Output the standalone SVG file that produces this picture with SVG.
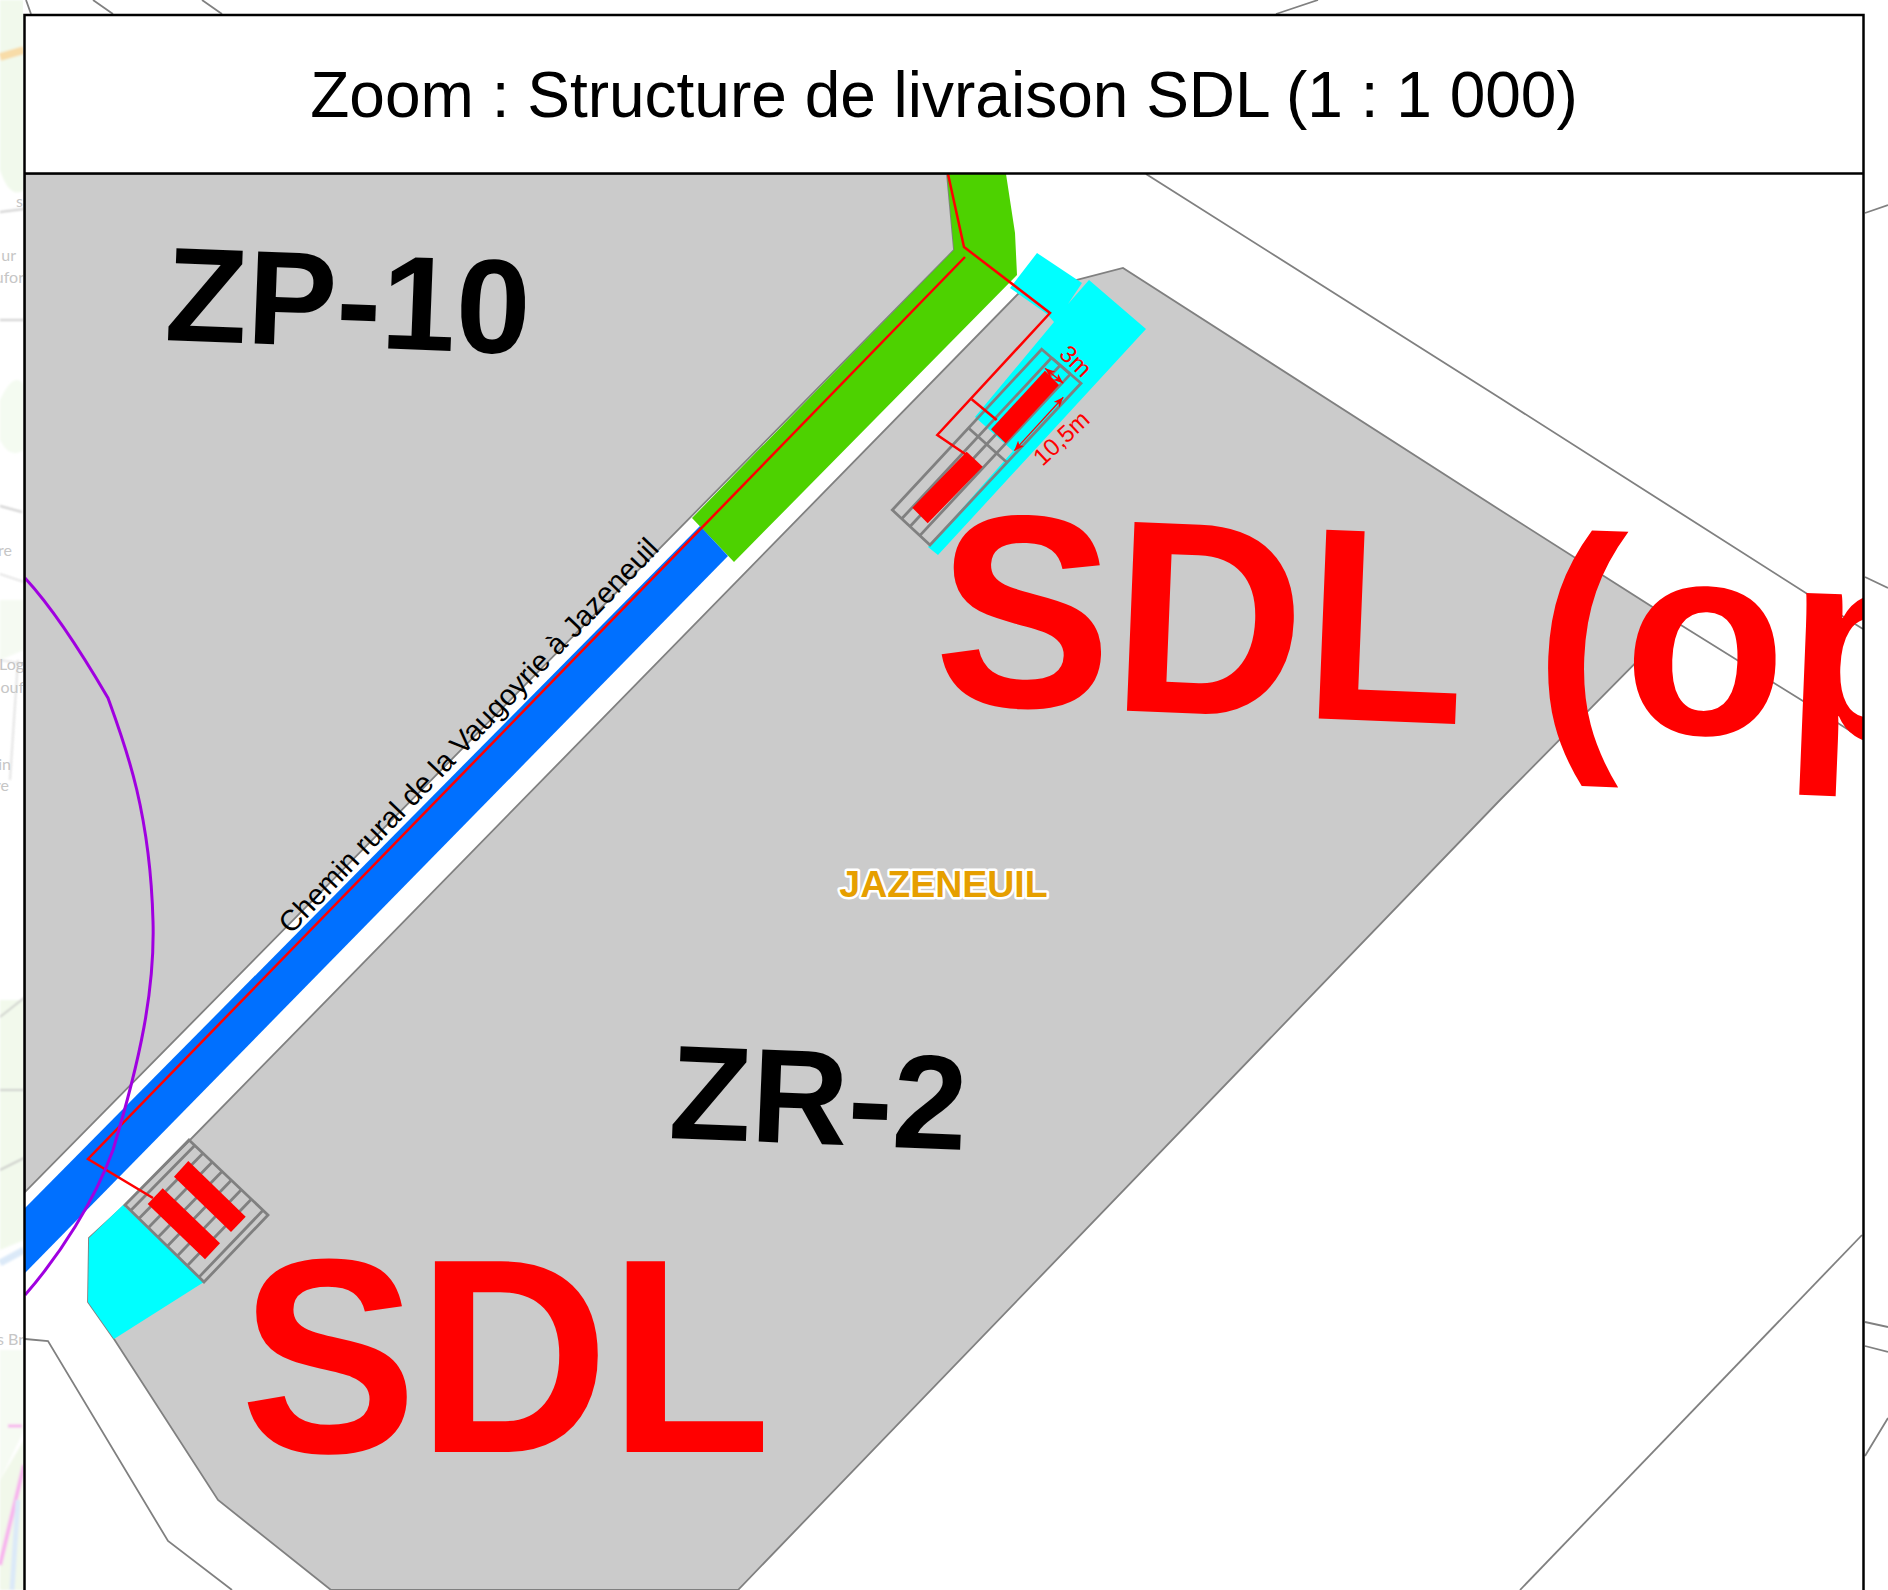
<svg xmlns="http://www.w3.org/2000/svg" width="1888" height="1590" viewBox="0 0 1888 1590">
<defs>
<style>
text{font-family:"Liberation Sans",Arial,sans-serif}
.b{font-weight:bold}
.lab{fill:#000;font-weight:bold;font-size:134px}
.sdl{fill:#f00;font-weight:bold;font-size:264px}
.parcel{fill:#cbcbcb;stroke:#808080;stroke-width:1.8}
.pl{fill:none;stroke:#808080;stroke-width:1.8}
.grid{fill:none;stroke:#808080;stroke-width:2.8}
.red{fill:#f00}
.rl{fill:none;stroke:#f00;stroke-width:2.5}
.dim{fill:none;stroke:#f00;stroke-width:1.3;marker-start:url(#ar);marker-end:url(#ar)}
.cy{fill:#0ff}
.mt{fill:#c6c6c6;font-size:16px;font-family:Lato,"Liberation Sans",sans-serif}
</style>
<marker id="ar" viewBox="0 0 10 8" refX="10" refY="4" markerWidth="10" markerHeight="8" markerUnits="userSpaceOnUse" orient="auto-start-reverse"><path d="M0 0L10 4L0 8L2.500 4Z" fill="#f00"/></marker>
<clipPath id="frame"><rect x="25" y="174" width="1838" height="1416"/></clipPath>
<clipPath id="strip"><rect x="0" y="0" width="23" height="1590"/></clipPath>
<filter id="soft" x="-20%" y="-20%" width="140%" height="140%"><feGaussianBlur stdDeviation="1"/></filter>
</defs>
<rect width="1888" height="1590" fill="#fff"/>
<g id="map-strip" clip-path="url(#strip)">
<g filter="url(#soft)">
<path d="M0 0H24V190Q10 200 0 170Z" fill="#f1f9ec"/>
<path d="M0 400Q14 370 24 385V450Q10 460 0 440Z" fill="#f4fbf1"/>
<path d="M0 600H24V650L0 660Z" fill="#f5faf2"/>
<path d="M0 1000H24V1240L0 1250Z" fill="#f2f9ec"/>
<path d="M0 1350H24V1430L0 1480Z" fill="#f6fbf3"/>
<path d="M0 1480L24 1440V1590H0Z" fill="#f1f8ea"/>
<path d="M0 57L24 50" stroke="#f8dca8" stroke-width="8" fill="none"/>
<path d="M0 212L24 209M0 320L24 320M0 506L22 512M0 1017L24 998M0 1090H24M0 1170L24 1158" stroke="#c0c0c0" stroke-width="1.5" fill="none"/>
<path d="M0 574L24 582M0 660L24 664M18 660L10 780" stroke="#d0d0d0" stroke-width="1.2" fill="none"/>
<path d="M24 1465L0 1565" stroke="#f8b4ee" stroke-width="4" fill="none"/>
<path d="M8 1426H22" stroke="#f8b4ee" stroke-width="3" fill="none"/>
<path d="M0 1263L24 1250" stroke="#dbe9f8" stroke-width="7" fill="none"/>
<path d="M18 1500L12 1590" stroke="#dbe9f8" stroke-width="5" fill="none"/>
</g>
<text class="mt" x="23" y="207" text-anchor="end">s</text>
<text class="mt" x="16" y="261" text-anchor="end">ur</text>
<text class="mt" x="24" y="283" text-anchor="end">ufor</text>
<text class="mt" x="12" y="556" text-anchor="end">re</text>
<text class="mt" x="24" y="670" text-anchor="end">Log</text>
<text class="mt" x="24" y="693" text-anchor="end">ouf</text>
<text class="mt" x="11" y="770" text-anchor="end">in</text>
<text class="mt" x="9" y="791" text-anchor="end">re</text>
<text class="mt" x="24" y="1345" text-anchor="end">s Br</text>
</g>
<g id="outside-lines">
<path class="pl" d="M26 0L31 14M93 0L113 14M202 0L222 14M1276 14L1318 0M1865 213L1888 205M1865 577L1888 588M1865 1322L1888 1327M1865 1346L1888 1352M1865 1456L1888 1418"/>
</g>
<g id="frame-bg"><rect x="24.500" y="15" width="1839" height="1585" fill="#fff"/></g>
<g id="map" clip-path="url(#frame)">
<g id="parcels">
<path class="pl" d="M1146 174L1500 398L1820 602L1863 629"/>
<path class="pl" d="M25 1339L48 1341L168 1541L232 1590"/>
<path class="pl" d="M1862 1235L1520 1590"/>
<path id="parcel-zp-10" class="parcel" d="M25 174H947L954 250L25 1192Z"/>
<path id="parcel-zr-2" class="parcel" d="M1017 295L1030 283L1076 280L1123 268L1500 510L1676 622L1500 800L738 1590H331L218 1500L114 1339L88 1302L89 1238L125 1205L189 1141Z"/>
<path class="pl" d="M1676 622L1803 701L1863 739"/>
</g>
<g id="access-road">
<path id="road-green" fill="#4dd200" d="M947 174H1006L1015 233L1017 275L734 562L692 518L954 250Z"/>
<path id="road-blue" fill="#0070ff" d="M25 1208L700 526L728 556L25 1273Z"/>
</g>
<g id="cyan-areas">
<path id="cyan-north" class="cy" d="M1010 288L1037 253L1082 283L1068 304L1089 280L1146 329L938 555L928 547L1013 451L975 417L1054 322L1047 314Z"/>
<path id="cyan-south" class="cy" d="M123 1205L89 1238L88 1302L114 1339L204 1282Z"/>
</g>
<g id="structure-south">
<path class="grid" d="M189 1140L268 1215L204 1282L125 1205Z"/>
<path class="grid" d="M130.700 1210.500L194.700 1145.400M139 1218.600L203 1153.300M148.300 1227.700L212.300 1162.100M158 1237.200L222 1171.400M167.300 1246.300L231.300 1180.200M177.300 1256L241.300 1189.700M187.300 1265.800L251.300 1199.200M199 1277.100L263 1210.300"/>
<path class="red" d="M188.300 1161L245.700 1216.700L231 1232L174 1176.700Z"/>
<path class="red" d="M162.700 1188.300L220 1243.300L205 1259.300L147.700 1204Z"/>
</g>
<g id="structure-north">
<path class="grid" d="M1041.700 349.300L1081 383.300L930 545L892.300 510Z"/>
<path class="grid" d="M901.700 518.800L1051.500 357.800M910 526.500L1060.200 365.300M919.800 535.600L1070.400 374.100M968.500 428L1007 462.500M1051.500 357.800L1070.400 374.100"/>
<path class="red" d="M1045 370.700L1059 385L1005.700 443.300L991 429.300Z"/>
<path class="red" d="M966.700 451.700L982.700 466.700L927.700 523.300L912.300 507.700Z"/>
</g>
<g id="connectors">
<path class="rl" d="M948 174L964 247L1050 313L937.300 435L966.700 455"/>
<path class="rl" d="M965 257L88 1159L153 1198"/>
<path class="rl" d="M971.700 399.300L996.700 420"/>
<path fill="none" stroke="#a000e0" stroke-width="3" d="M25 578C50 605 80 650 108 698C125 745 150 810 153 921C155 990 140 1060 113 1150C95 1200 60 1255 25 1295"/>
<path class="dim" d="M1045 368.300L1063.300 383.300"/>
<path class="dim" d="M1063.300 397.300L1014.300 450.700"/>
</g>
<g id="labels">
<text class="lab" x="164" y="340" transform="rotate(2.2 164 340)">ZP-10</text>
<text class="lab" x="668" y="1138" transform="rotate(2.3 668 1138)">ZR-2</text>
<text class="sdl" transform="translate(240 1452) scale(1.006 1.05)">SDL</text>
<text class="sdl" transform="translate(932 703) rotate(2.3) scale(1.007 1.04)">SDL (op</text>
<text x="943.500" y="897" class="b" font-size="37.500" fill="#e69f00" stroke="#fff" stroke-width="5" stroke-linejoin="round" paint-order="stroke" text-anchor="middle">JAZENEUIL</text>
<text x="291" y="935" font-size="29.300" transform="rotate(-46.200 291 935)">Chemin rural de la Vaugoyrie à Jazeneuil</text>
<text font-size="24" fill="#f00" text-anchor="middle" transform="translate(1076 361) rotate(44)" y="8.500">3m</text>
<text font-size="24" fill="#f00" text-anchor="middle" transform="translate(1061 438) rotate(-43)" y="8.500">10,5m</text>
</g>
</g>
<g id="title">
<rect x="24.500" y="15" width="1839" height="158.500" fill="#fff"/>
<text x="944" y="117" font-size="64" text-anchor="middle">Zoom : Structure de livraison SDL (1 : 1 000)</text>
</g>
<g id="frame-lines" fill="none" stroke="#000" stroke-width="2.500">
<rect x="24.500" y="15" width="1839" height="1600"/>
<path d="M24.500 173.500H1863.500"/>
</g>
</svg>
